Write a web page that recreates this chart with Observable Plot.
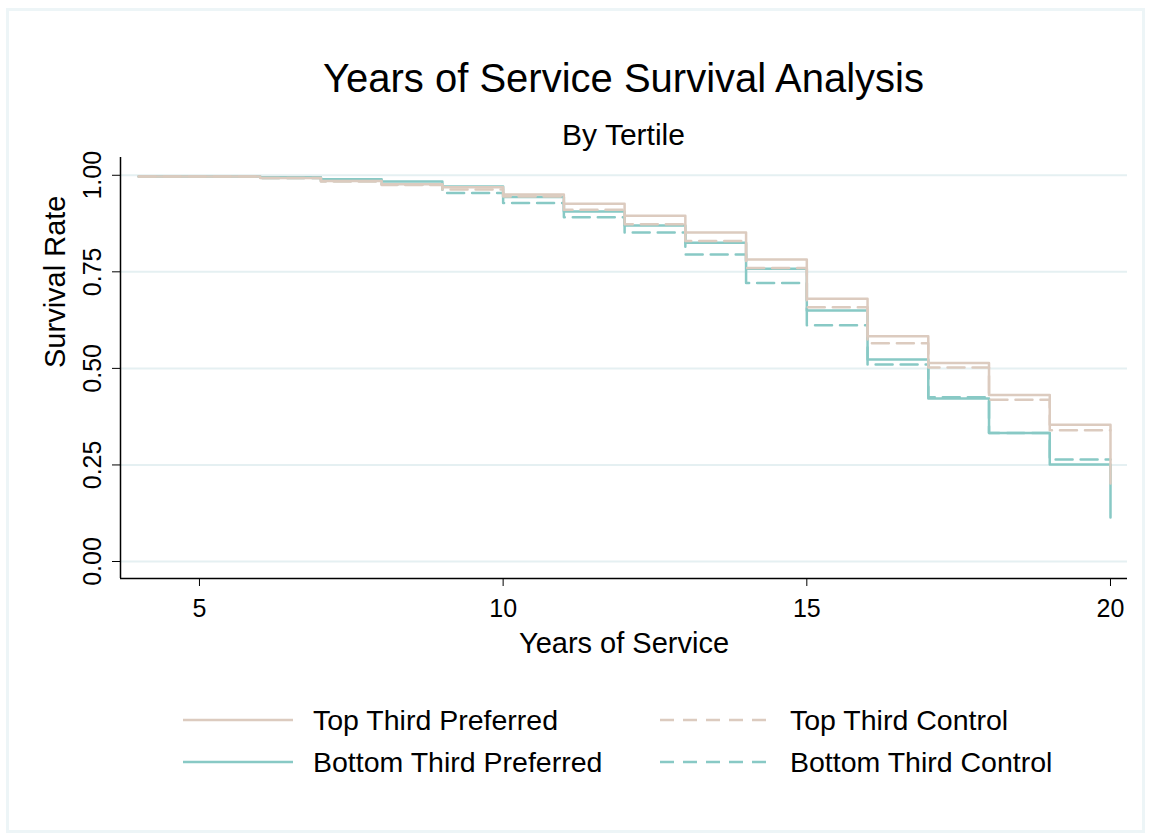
<!DOCTYPE html>
<html>
<head>
<meta charset="utf-8">
<script src="https://cdn.jsdelivr.net/npm/d3@7"></script>
<script src="https://cdn.jsdelivr.net/npm/@observablehq/plot@0.6"></script>
<style>
  html, body { margin: 0; padding: 0; background: #fff; }
  body { width: 1151px; height: 839px; position: relative; overflow: hidden;
         font-family: "Liberation Sans", Arial, sans-serif; color: #000; }
  #border { position: absolute; left: 6px; top: 8px; width: 1139px; height: 825px;
            border: 3px solid #edf5f7; box-sizing: border-box; }
  #title { position: absolute; left: 120px; width: 1007px; top: 58px; text-align: center;
           font-size: 40px; line-height: 40px; }
  #subtitle { position: absolute; left: 120px; width: 1007px; top: 120px; text-align: center;
              font-size: 30px; line-height: 30px; }
  #chart { position: absolute; left: 0; top: 150px; }
  .item { position: absolute; display: flex; align-items: center; height: 36px;
          font-size: 28.5px; line-height: 36px; white-space: nowrap; }
  .item svg { margin-right: 20px; }
</style>
</head>
<body>
<div id="border"></div>
<div id="title">Years of Service Survival Analysis</div>
<div id="subtitle">By Tertile</div>
<div id="chart"></div>
<div id="legend"></div>
<script>
// Kaplan–Meier style survival rates by completed year of service
const years = [4, 5, 6, 7, 8, 9, 10, 11, 12, 13, 14, 15, 16, 17, 18, 19, 20];
const topPreferred    = [0.997, 0.997, 0.993, 0.985, 0.977, 0.969, 0.950, 0.926, 0.895, 0.852, 0.782, 0.680, 0.583, 0.514, 0.431, 0.354, 0.202];
const topControl      = [0.997, 0.997, 0.993, 0.984, 0.975, 0.963, 0.945, 0.911, 0.873, 0.830, 0.760, 0.658, 0.565, 0.502, 0.419, 0.340, 0.340];
const bottomPreferred = [0.997, 0.997, 0.995, 0.990, 0.984, 0.971, 0.944, 0.906, 0.870, 0.825, 0.758, 0.650, 0.523, 0.422, 0.333, 0.251, 0.114];
const bottomControl   = [0.997, 0.997, 0.993, 0.985, 0.977, 0.954, 0.928, 0.891, 0.852, 0.795, 0.721, 0.612, 0.510, 0.425, 0.333, 0.264, 0.264];

const seriesNames  = ["Top Third Preferred", "Top Third Control", "Bottom Third Preferred", "Bottom Third Control"];
const seriesValues = [topPreferred, topControl, bottomPreferred, bottomControl];
const seriesColors = ["#dccbbf", "#dccbbf", "#88c9c5", "#88c9c5"];
const seriesDashed = [false, true, false, true];
// bottom-third curves go underneath, top-third curves on top of them
const drawOrder = [2, 3, 0, 1];

const xTicks = [5, 10, 15, 20];
const yTicks = [0, 0.25, 0.5, 0.75, 1];
const xDomain = [3.7, 20.28];
const yDomain = [-0.044, 1.046];

const rows = seriesNames.flatMap((name, i) =>
  years.map((year, j) => ({series: name, year, rate: seriesValues[i][j]})));

const lineMarks = drawOrder.map(i =>
  Plot.line(rows.filter(d => d.series === seriesNames[i]), {
    x: "year", y: "rate", stroke: "series", curve: "step-after",
    strokeWidth: 2.5, strokeDasharray: seriesDashed[i] ? "17,8" : null
  }));

const chart = Plot.plot({
  width: 1151,
  height: 520,
  marginLeft: 120,
  marginRight: 24,
  marginTop: 7,
  marginBottom: 92,
  style: {fontFamily: "Liberation Sans, Arial, sans-serif", fontSize: "25px", color: "#000", background: "transparent", overflow: "visible"},
  x: {domain: xDomain},
  y: {domain: yDomain},
  color: {domain: seriesNames, range: seriesColors},
  marks: [
    Plot.gridY(yTicks, {stroke: "#e5f0f2", strokeOpacity: 1, strokeWidth: 2}),
    ...lineMarks,
    Plot.ruleX([xDomain[0]], {stroke: "#000", strokeWidth: 1.5}),
    Plot.ruleY([yDomain[0]], {stroke: "#000", strokeWidth: 1.5}),
    Plot.axisX(xTicks, {tickSize: 8, tickPadding: 13, label: null, fontSize: 25, stroke: "#000"}),
    Plot.axisY(yTicks, {tickSize: 8, tickPadding: 12, tickRotate: -90, tickFormat: d3.format(".2f"), label: null, fontSize: 25, stroke: "#000"}),
    Plot.text(["Years of Service"], {frameAnchor: "bottom", dy: 74, lineAnchor: "bottom", fontSize: 29}),
    Plot.text(["Survival Rate"], {frameAnchor: "left", dx: -56, rotate: -90, lineAnchor: "bottom", fontSize: 29})
  ]
});
document.getElementById("chart").appendChild(chart);

// Legend: two columns, two rows, line swatch followed by the series name
const legend = document.getElementById("legend");
const legendLeft = [183, 660];
const legendMid = [720, 762];
seriesNames.forEach((name, i) => {
  const col = i % 2, row = Math.floor(i / 2);
  const item = document.createElement("div");
  item.className = "item";
  item.style.left = legendLeft[col] + "px";
  item.style.top = (legendMid[row] - 18) + "px";
  const dash = seriesDashed[i] ? ' stroke-dasharray="14,9"' : "";
  item.innerHTML = `<svg width="110" height="10"><line x1="0" x2="110" y1="5" y2="5" stroke="${seriesColors[i]}" stroke-width="2.5"${dash}/></svg><span>${name}</span>`;
  legend.appendChild(item);
});
</script>
</body>
</html>
